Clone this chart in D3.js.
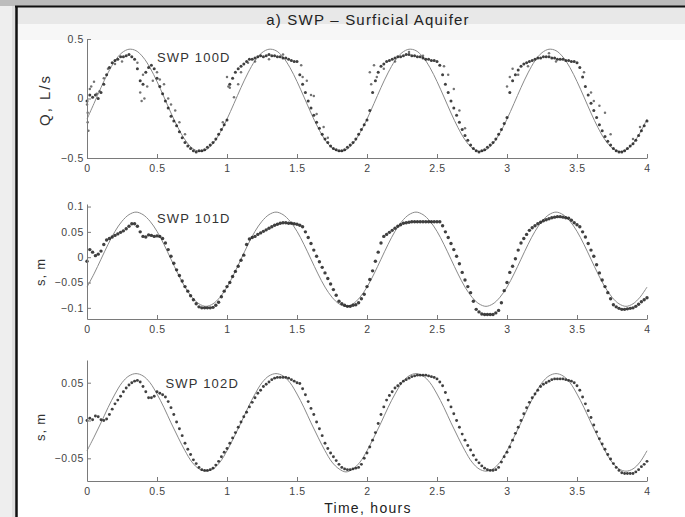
<!DOCTYPE html>
<html>
<head>
<meta charset="utf-8">
<script src="https://cdn.jsdelivr.net/npm/d3@7"></script>
<style>
  body { margin: 0; background: #fff; }
  svg { display: block; font-family: "Liberation Sans", Arial, sans-serif; }
</style>
</head>
<body>
<div id="chart"></div>
<script>
// ---- data ----
const hours = [0, 0.5, 1, 1.5, 2, 2.5, 3, 3.5, 4];
const wells = ['SWP 100D', 'SWP 101D', 'SWP 102D'];
const yTitles = ['Q, L/s', 's, m', 's, m'];
const yTicks100D = [-0.5, 0, 0.5];
const yTicks101D = [-0.1, -0.05, 0, 0.05, 0.1];
const yTicks102D = [-0.05, 0, 0.05];

const obsStep = 0.02;   // hours between observed samples
const modelStep = 0.05; // hours between model samples

// SWP 100D, Q (L/s)
const obs100D = [
  -0.02,0.03,0.01,0.03,0.0,0.05,0.12,0.2,0.26,0.3,
  0.32,0.33,0.35,0.35,0.36,0.37,0.35,0.33,0.25,0.15,
  0.12,0.22,0.26,0.28,0.25,0.17,0.1,0.04,-0.02,-0.08,
  -0.15,-0.19,-0.23,-0.28,-0.33,-0.37,-0.4,-0.42,-0.44,-0.45,
  -0.44,-0.44,-0.43,-0.41,-0.39,-0.37,-0.34,-0.3,-0.26,-0.22,
  -0.18,0.12,0.17,0.22,0.25,0.27,0.29,0.31,0.33,0.33,
  0.34,0.35,0.36,0.35,0.36,0.37,0.36,0.36,0.35,0.35,
  0.34,0.34,0.33,0.32,0.31,0.31,0.2,0.12,0.05,-0.02,
  -0.08,-0.14,-0.2,-0.25,-0.3,-0.34,-0.37,-0.4,-0.42,-0.43,
  -0.44,-0.44,-0.43,-0.41,-0.39,-0.37,-0.34,-0.3,-0.26,-0.22,
  -0.18,-0.1,0.05,0.15,0.22,0.27,0.29,0.31,0.32,0.33,
  0.34,0.35,0.35,0.36,0.37,0.37,0.36,0.36,0.35,0.35,
  0.34,0.33,0.33,0.32,0.32,0.31,0.28,0.2,0.12,0.05,
  -0.02,-0.08,-0.14,-0.2,-0.26,-0.31,-0.35,-0.39,-0.42,-0.44,
  -0.45,-0.44,-0.43,-0.41,-0.39,-0.37,-0.34,-0.3,-0.26,-0.21,
  -0.16,0.05,0.15,0.2,0.24,0.27,0.29,0.3,0.31,0.32,
  0.33,0.34,0.34,0.35,0.35,0.35,0.34,0.34,0.33,0.33,
  0.33,0.32,0.32,0.31,0.31,0.3,0.26,0.18,0.1,0.03,
  -0.04,-0.1,-0.16,-0.22,-0.27,-0.32,-0.36,-0.39,-0.42,-0.44,
  -0.45,-0.45,-0.44,-0.42,-0.4,-0.38,-0.35,-0.31,-0.27,-0.23,
  -0.19
];
// stray readings off the main band [hours, Q]
const stray100D = [
  [0,-0.05],[0.005,-0.12],[0.005,-0.2],[0.01,-0.27],[0.02,0.08],[0.03,0.1],[0.05,0.14],[0.07,0.04],
  [0.09,0.06],[0.12,0.17],[0.15,0.25],[0.2,0.29],[0.25,0.31],
  [0.36,0.3],[0.38,0.05],[0.39,-0.02],[0.4,0.2],[0.41,0.0],[0.43,0.1],[0.47,0.15],[0.5,0.22],
  [0.52,0.16],[0.55,0.12],[0.58,0.0],[0.6,-0.05],[0.63,-0.1],[0.66,-0.2],[0.7,-0.3],
  [0.97,-0.2],[1.0,0.18],[1.01,0.1],[1.02,0.09],[1.05,0.01],[1.08,0.12],[1.1,0.22],[1.15,0.3],
  [1.2,0.31],[1.3,0.33],[1.4,0.37],
  [1.53,0.28],[1.54,0.18],[1.57,0.15],[1.6,0.03],[1.62,0.02],[1.64,-0.13],[1.69,-0.24],[1.72,-0.33],
  [2.02,0.22],[2.03,0.12],[2.05,0.28],[2.07,0.18],[2.12,0.25],[2.2,0.31],[2.3,0.39],[2.4,0.36],
  [2.55,0.27],[2.58,0.2],[2.62,0.08],[2.66,-0.1],[2.7,-0.25],
  [3.0,0.1],[3.02,0.18],[3.04,0.25],[3.08,0.2],[3.15,0.27],[3.3,0.38],[3.35,0.31],
  [3.55,0.22],[3.6,0.05],[3.62,-0.02],[3.66,-0.06],[3.7,-0.12],[3.74,-0.3],[3.9,-0.34],[3.95,-0.24]
];
const model100D = [
  -0.173,-0.042,0.092,0.215,0.317,0.385,0.414,0.402,0.348,0.259,0.143,0.012,-0.122,-0.245,-0.347,-0.415,-0.444,-0.432,-0.378,-0.289,
  -0.173,-0.042,0.092,0.215,0.317,0.385,0.414,0.402,0.348,0.259,0.143,0.012,-0.122,-0.245,-0.347,-0.415,-0.444,-0.432,-0.378,-0.289,
  -0.173,-0.042,0.092,0.215,0.317,0.385,0.414,0.402,0.348,0.259,0.143,0.012,-0.122,-0.245,-0.347,-0.415,-0.444,-0.432,-0.378,-0.289,
  -0.173,-0.042,0.092,0.215,0.317,0.385,0.414,0.402,0.348,0.259,0.143,0.012,-0.122,-0.245,-0.347,-0.415,-0.444,-0.432,-0.378,-0.289,
  -0.173
];

// SWP 101D, s (m)
const obs101D = [
  -0.008,0.015,0.01,0.003,0.006,0.012,0.025,0.034,0.037,0.04,
  0.043,0.046,0.049,0.052,0.056,0.061,0.066,0.066,0.061,0.05,
  0.041,0.04,0.044,0.043,0.041,0.042,0.041,0.037,0.028,0.015,
  0.002,-0.012,-0.025,-0.036,-0.047,-0.058,-0.067,-0.076,-0.084,-0.092,
  -0.098,-0.1,-0.1,-0.1,-0.1,-0.099,-0.095,-0.089,-0.078,-0.067,
  -0.058,-0.05,-0.038,-0.028,-0.018,-0.006,0.004,0.025,0.036,0.039,
  0.041,0.045,0.048,0.051,0.054,0.057,0.06,0.063,0.065,0.067,
  0.068,0.068,0.067,0.067,0.066,0.065,0.063,0.06,0.05,0.039,
  0.027,0.014,0.002,-0.009,-0.02,-0.031,-0.042,-0.053,-0.064,-0.075,
  -0.087,-0.092,-0.095,-0.097,-0.097,-0.095,-0.094,-0.09,-0.082,-0.073,
  -0.058,-0.044,-0.027,-0.008,0.01,0.028,0.041,0.045,0.049,0.053,
  0.057,0.061,0.064,0.067,0.068,0.069,0.07,0.07,0.07,0.07,
  0.07,0.07,0.07,0.07,0.07,0.07,0.07,0.062,0.05,0.039,
  0.027,0.015,0.002,-0.013,-0.03,-0.045,-0.058,-0.07,-0.087,-0.103,
  -0.108,-0.112,-0.113,-0.113,-0.113,-0.113,-0.11,-0.105,-0.09,-0.066,
  -0.05,-0.03,-0.018,-0.003,0.014,0.028,0.037,0.045,0.053,0.058,
  0.062,0.066,0.069,0.072,0.074,0.076,0.078,0.079,0.08,0.08,
  0.079,0.078,0.077,0.073,0.068,0.064,0.06,0.05,0.04,0.027,
  0.014,0.002,-0.015,-0.031,-0.045,-0.058,-0.07,-0.082,-0.094,-0.098,
  -0.101,-0.103,-0.103,-0.102,-0.101,-0.1,-0.097,-0.093,-0.088,-0.084,
  -0.08
];
const model101D = [
  -0.059,-0.033,-0.004,0.025,0.051,0.071,0.084,0.089,0.084,0.071,0.051,0.025,-0.004,-0.033,-0.059,-0.079,-0.092,-0.097,-0.092,-0.079,
  -0.059,-0.033,-0.004,0.025,0.051,0.071,0.084,0.089,0.084,0.071,0.051,0.025,-0.004,-0.033,-0.059,-0.079,-0.092,-0.097,-0.092,-0.079,
  -0.059,-0.033,-0.004,0.025,0.051,0.071,0.084,0.089,0.084,0.071,0.051,0.025,-0.004,-0.033,-0.059,-0.079,-0.092,-0.097,-0.092,-0.079,
  -0.059,-0.033,-0.004,0.025,0.051,0.071,0.084,0.089,0.084,0.071,0.051,0.025,-0.004,-0.033,-0.059,-0.079,-0.092,-0.097,-0.092,-0.079,
  -0.059
];

// SWP 102D, s (m)
const obs102D = [
  0.0,0.003,0.001,0.006,0.005,0.001,0.0,0.002,0.008,0.015,
  0.022,0.027,0.032,0.038,0.043,0.047,0.05,0.052,0.053,0.051,
  0.045,0.038,0.03,0.03,0.032,0.038,0.036,0.034,0.031,0.025,
  0.017,0.008,-0.002,-0.011,-0.02,-0.03,-0.038,-0.045,-0.052,-0.057,
  -0.062,-0.065,-0.066,-0.066,-0.065,-0.063,-0.059,-0.054,-0.048,-0.042,
  -0.037,-0.03,-0.023,-0.016,-0.009,-0.002,0.005,0.011,0.018,0.024,
  0.03,0.036,0.04,0.045,0.048,0.051,0.054,0.056,0.057,0.057,
  0.057,0.057,0.056,0.054,0.052,0.05,0.049,0.042,0.034,0.025,
  0.016,0.008,-0.002,-0.011,-0.02,-0.03,-0.037,-0.043,-0.048,-0.053,
  -0.058,-0.062,-0.064,-0.065,-0.065,-0.064,-0.063,-0.062,-0.058,-0.05,
  -0.043,-0.035,-0.026,-0.016,-0.004,0.008,0.018,0.027,0.033,0.038,
  0.043,0.046,0.049,0.052,0.054,0.056,0.058,0.059,0.06,0.06,
  0.06,0.06,0.059,0.058,0.057,0.055,0.051,0.046,0.037,0.027,
  0.018,0.009,0.0,-0.009,-0.018,-0.026,-0.033,-0.039,-0.046,-0.052,
  -0.056,-0.06,-0.063,-0.065,-0.066,-0.066,-0.065,-0.062,-0.055,-0.048,
  -0.042,-0.035,-0.026,-0.017,-0.009,0.0,0.009,0.017,0.024,0.03,
  0.035,0.04,0.045,0.048,0.05,0.052,0.054,0.055,0.055,0.055,
  0.055,0.054,0.053,0.052,0.05,0.046,0.04,0.031,0.022,0.013,
  0.004,-0.006,-0.015,-0.024,-0.031,-0.038,-0.045,-0.051,-0.057,-0.062,
  -0.066,-0.069,-0.07,-0.07,-0.07,-0.07,-0.068,-0.065,-0.061,-0.058,
  -0.054
];
const model102D = [
  -0.040,-0.022,-0.003,0.017,0.035,0.050,0.059,0.062,0.059,0.050,0.035,0.017,-0.003,-0.022,-0.040,-0.055,-0.064,-0.067,-0.064,-0.055,
  -0.040,-0.022,-0.003,0.017,0.035,0.050,0.059,0.062,0.059,0.050,0.035,0.017,-0.003,-0.022,-0.040,-0.055,-0.064,-0.068,-0.064,-0.055,
  -0.040,-0.022,-0.003,0.017,0.035,0.050,0.059,0.062,0.059,0.050,0.035,0.017,-0.003,-0.022,-0.040,-0.055,-0.064,-0.067,-0.064,-0.055,
  -0.040,-0.022,-0.003,0.017,0.035,0.050,0.059,0.062,0.059,0.050,0.035,0.017,-0.003,-0.022,-0.040,-0.055,-0.064,-0.067,-0.064,-0.055,
  -0.040
];

// ---- layout ----
const w = 685;
const h = 517;

const panels = [
  { name: wells[0], ytitle: yTitles[0], ticks: yTicks100D, domain: [-0.5, 0.5], range: [158, 39],
    obs: obs100D, model: model100D, stray: stray100D, r: 1.5, label: [0.5, 0.345],
    ytitleX: 50, ytitleY: 100, ytitleSize: 15, ytitleSpacing: 2 },
  { name: wells[1], ytitle: yTitles[1], ticks: yTicks101D, domain: [-0.122, 0.105], range: [319, 204],
    obs: obs101D, model: model101D, stray: [], r: 1.7, label: [0.5, 0.076],
    ytitleX: 45, ytitleY: 272, ytitleSize: 13, ytitleSpacing: 0.8 },
  { name: wells[2], ytitle: yTitles[2], ticks: yTicks102D, domain: [-0.08, 0.08], range: [481, 360],
    obs: obs102D, model: model102D, stray: [], r: 1.45, label: [0.56, 0.049],
    ytitleX: 45, ytitleY: 427, ytitleSize: 13, ytitleSpacing: 0.8 }
];

const x = d3.scaleLinear().domain([0, 4]).range([87, 647]);
const fmt = d => String(d).replace('-', '\u2212');

const svg = d3.select('#chart')
  .append('svg')
  .attr('width', w)
  .attr('height', h);

// scanned page frame
svg.append('rect').attr('width', w).attr('height', h).attr('fill', '#dedede');
svg.append('rect').attr('width', 12).attr('height', h).attr('fill', '#eeeeee');
svg.append('rect').attr('width', w).attr('height', 6).attr('fill', '#bcbcbc');
svg.append('rect').attr('x', 17).attr('y', 7).attr('width', w - 17).attr('height', h - 7).attr('fill', '#fff');
svg.append('rect').attr('x', 17).attr('y', 7).attr('width', w - 17).attr('height', 17).attr('fill', '#e8e8e8');
svg.append('rect').attr('x', 17).attr('y', 24).attr('width', w - 17).attr('height', 16).attr('fill', '#f7f7f7');
svg.append('line').attr('x1', 15).attr('x2', w).attr('y1', 6.5).attr('y2', 6.5)
  .attr('stroke', '#111').attr('stroke-width', 2);
svg.append('line').attr('x1', 16.5).attr('x2', 16.5).attr('y1', 6).attr('y2', h)
  .attr('stroke', '#111').attr('stroke-width', 2.5);

svg.append('text')
  .attr('x', 368)
  .attr('y', 25)
  .attr('text-anchor', 'middle')
  .attr('font-size', 15)
  .attr('letter-spacing', 1.2)
  .attr('fill', '#222')
  .text('a) SWP \u2013 Surficial Aquifer');

panels.forEach(function(p) {
  const y = d3.scaleLinear().domain(p.domain).range(p.range);
  const g = svg.append('g');

  // model curve
  g.append('path')
    .datum(p.model)
    .attr('fill', 'none')
    .attr('stroke', '#8a8a8a')
    .attr('stroke-width', 1)
    .attr('d', d3.line()
      .x((d, i) => x(i * modelStep))
      .y(d => y(d))
      .curve(d3.curveCatmullRom));

  // observed readings
  g.append('g')
    .selectAll('circle')
    .data(p.obs)
    .enter()
    .append('circle')
    .attr('cx', (d, i) => x(i * obsStep))
    .attr('cy', d => y(d))
    .attr('r', p.r)
    .attr('fill', '#1e1e1e')
    .attr('fill-opacity', 0.85);

  g.append('g')
    .selectAll('circle')
    .data(p.stray)
    .enter()
    .append('circle')
    .attr('cx', d => x(d[0]))
    .attr('cy', d => y(d[1]))
    .attr('r', 1.25)
    .attr('fill', '#444')
    .attr('fill-opacity', 0.75);

  // axes (box off, ticks inward)
  const xAxis = g.append('g')
    .attr('transform', 'translate(0,' + p.range[0] + ')')
    .call(d3.axisBottom(x).tickValues(hours).tickSize(-4).tickSizeOuter(0).tickPadding(7).tickFormat(fmt));
  const yAxis = g.append('g')
    .attr('transform', 'translate(' + x.range()[0] + ',0)')
    .call(d3.axisLeft(y).tickValues(p.ticks).tickSize(-4).tickSizeOuter(0).tickPadding(3).tickFormat(fmt));

  [xAxis, yAxis].forEach(a => {
    a.select('.domain').attr('stroke', '#7a7a7a');
    a.selectAll('.tick line').attr('stroke', '#7a7a7a');
    a.selectAll('.tick text').attr('fill', '#444').attr('font-size', 10.5)
      .attr('letter-spacing', 0.6)
      .attr('font-family', '"Liberation Sans", Arial, sans-serif');
  });

  g.append('text')
    .attr('transform', 'translate(' + p.ytitleX + ',' + p.ytitleY + ') rotate(-90)')
    .attr('text-anchor', 'middle')
    .attr('font-size', p.ytitleSize)
    .attr('letter-spacing', p.ytitleSpacing)
    .attr('fill', '#333')
    .text(p.ytitle);

  g.append('text')
    .attr('x', x(p.label[0]))
    .attr('y', y(p.label[1]) + 4.5)
    .attr('font-size', 13)
    .attr('letter-spacing', 1.2)
    .attr('fill', '#333')
    .text(p.name);
});

svg.append('text')
  .attr('x', 368)
  .attr('y', 513)
  .attr('text-anchor', 'middle')
  .attr('font-size', 14)
  .attr('letter-spacing', 1.3)
  .attr('fill', '#222')
  .text('Time, hours');
</script>
</body>
</html>
